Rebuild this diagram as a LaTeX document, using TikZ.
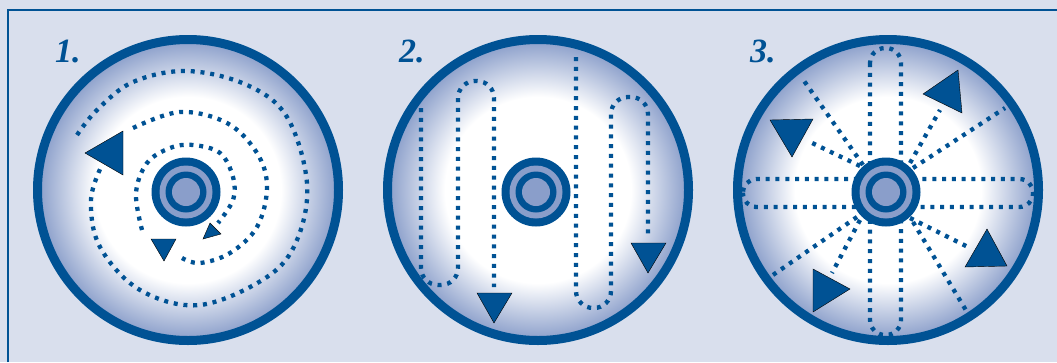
\documentclass[tikz,border=0pt]{standalone}
\usepackage{fontspec}
\setmainfont{Liberation Serif}
\definecolor{navy}{RGB}{0,82,148}
\definecolor{haze}{RGB}{217,223,237}
\definecolor{steel}{RGB}{138,158,202}
\pgfdeclareradialshading{disc}{\pgfpoint{0bp}{0bp}}{color(0bp)=(white); color(15.5bp)=(white); color(25bp)=(steel); color(50bp)=(steel)}
\begin{document}
\begin{tikzpicture}[x=1pt, y=-1pt,
  dots/.style={navy, line width=4.3pt, dash pattern=on 4pt off 5.8pt},
  tip/.style={fill=navy},
  lbl/.style={text=navy, inner sep=0pt, anchor=base west, font=\fontsize{34}{34}\selectfont\bfseries\itshape}]
  \useasboundingbox (0,0) rectangle (1057,362);
  \fill[haze] (0,0) rectangle (1057,362);
  \draw[navy, line width=2pt] (7.5,362) -- (7.5,9.5) -- (1057,9.5);
  % discs
  \coordinate (d1) at (188,190);
  \coordinate (d2) at (538,190);
  \coordinate (d3) at (888,190);
  \foreach \d in {d1,d2,d3}
    \shade[shading=disc] (\d) circle (150);
  % 1: spiral in
  \draw[dots] plot[smooth, tension=0.6] coordinates {(77,135) (97,110) (133,82) (187,71) (247,85) (287,117) (307,183) (297,240) (267,277) (200,305) (140,290) (100,247) (91,200) (102,165)};
  \filldraw[tip] (85,153) -- (123,131) -- (123,175) -- cycle;
  \draw[dots] plot[smooth, tension=0.6] coordinates {(133,128) (180,112) (227,123) (257,153) (267,187) (257,227) (230,253) (200,263) (182,258)};
  \filldraw[tip] (151,239) -- (176,239) -- (164,261) -- cycle;
  \draw[dots] plot[smooth, tension=0.6] coordinates {(142,230) (136,193) (147,163) (170,148) (193,145) (220,153) (233,177) (233,200) (218,223)};
  \filldraw[tip] (210,223) -- (203,239) -- (221,234) -- cycle;
  % 2: back and forth
  \draw[dots, rounded corners=17pt] (421,108) -- (421,285) -- (458,285) -- (458,81) -- (494,81) -- (494,287);
  \filldraw[tip] (477,293) -- (512,293) -- (494,323) -- cycle;
  \draw[dots, rounded corners=17pt] (576,57) -- (576,308) -- (611,308) -- (611,97) -- (648,97) -- (648,237);
  \filldraw[tip] (631,243) -- (666,243) -- (648,273) -- cycle;
  % 3: out from the middle
  \draw[dots, rounded corners=15pt] (870,48) rectangle (901,335);
  \draw[dots, rounded corners=13.5pt] (743,179) rectangle (1033,207);
  \draw[dots] (863,165) -- (802,78);
  \draw[dots] (860,166) -- (808,141);
  \draw[dots] (910,163) -- (940,110);
  \draw[dots] (913,168) -- (1005,108);
  \draw[dots] (857,217) -- (770,277);
  \draw[dots] (860,220) -- (832,273);
  \draw[dots] (910,218) -- (968,247);
  \draw[dots] (913,222) -- (967,312);
  \filldraw[tip] (770,120) -- (813,119) -- (792,157) -- cycle;
  \filldraw[tip] (923,94) -- (958,70) -- (962,113) -- cycle;
  \filldraw[tip] (965,267) -- (987,229) -- (1007,266) -- cycle;
  \filldraw[tip] (813,269) -- (850,289) -- (813,312) -- cycle;
  % rims and hubs
  \foreach \d in {d1,d2,d3}
    \draw[navy, line width=9pt] (\d) circle (150.5);
  \coordinate (h1) at (186,192);
  \coordinate (h2) at (536,192);
  \coordinate (h3) at (886,192);
  \foreach \h in {h1,h2,h3} {
    \fill[navy] (\h) circle (34.5);
    \fill[steel] (\h) circle (26.5);
    \fill[navy] (\h) circle (20.5);
    \fill[steel] (\h) circle (14);
  }
  \node[lbl] (n1) at (55,62) {1.};
  \node[lbl] (n2) at (399,62) {2.};
  \node[lbl] (n3) at (750,62) {3.};
\end{tikzpicture}
\end{document}
